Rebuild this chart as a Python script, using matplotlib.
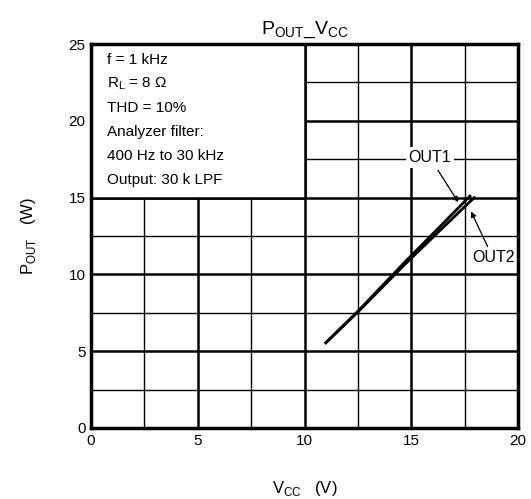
import matplotlib
matplotlib.use('Agg')
import matplotlib.pyplot as plt
from matplotlib.patches import Rectangle

plt.rcParams['font.family'] = ['Liberation Sans', 'DejaVu Sans']
plt.rcParams['mathtext.fontset'] = 'custom'
plt.rcParams['mathtext.rm'] = 'Liberation Sans'

vcc_out1 = [11.0, 12.5, 14.7, 16.3, 17.75]
pout_out1 = [5.55, 7.6, 10.8, 13.05, 15.1]
vcc_out2 = [11.0, 12.5, 14.7, 16.3, 17.95]
pout_out2 = [5.55, 7.55, 10.65, 12.8, 15.0]

notes = ['f = 1 kHz', r'R$_{\mathregular{L}}$ = 8 Ω', 'THD = 10%',
         'Analyzer filter:', '400 Hz to 30 kHz', 'Output: 30 k LPF']


def main():
    fig = plt.figure(figsize=(5.31, 4.99), dpi=100)
    ax = fig.add_axes([0.1714, 0.1423, 0.8041, 0.7695])

    ax.set_xlim(0, 20)
    ax.set_ylim(0, 25)
    ax.set_xticks([0, 5, 10, 15, 20])
    ax.set_yticks([0, 5, 10, 15, 20, 25])
    ax.set_xticks([2.5, 7.5, 12.5, 17.5], minor=True)
    ax.set_yticks([2.5, 7.5, 12.5, 17.5, 22.5], minor=True)
    ax.tick_params(which='both', length=0, labelsize=11, pad=4)
    ax.grid(which='major', color='black', lw=1.8)
    ax.grid(which='minor', color='black', lw=1.0)
    for s in ax.spines.values():
        s.set_linewidth(2.5)

    # condition box in the top-left corner
    ax.add_patch(Rectangle((0, 15), 10, 10, facecolor='white', edgecolor='black',
                           lw=1.8, zorder=2))
    for i, t in enumerate(notes):
        ax.text(0.74, 23.96 - i * 1.56, t, fontsize=11, va='center', zorder=3)

    ax.plot(vcc_out1, pout_out1, color='black', lw=2.0, zorder=4)
    ax.plot(vcc_out2, pout_out2, color='black', lw=2.0, zorder=4)

    ax.annotate('OUT1', xy=(17.2, 14.7), xytext=(15.88, 17.6), fontsize=11.5,
                ha='center', va='center', zorder=5,
                bbox=dict(facecolor='white', edgecolor='none', pad=2),
                arrowprops=dict(arrowstyle='-|>', color='black', lw=0.9,
                                shrinkA=2, shrinkB=0, mutation_scale=8))
    ax.annotate('OUT2', xy=(17.8, 14.1), xytext=(18.83, 11.07), fontsize=11.5,
                ha='center', va='center', zorder=5,
                bbox=dict(facecolor='white', edgecolor='none', pad=1),
                arrowprops=dict(arrowstyle='-|>', color='black', lw=0.9,
                                shrinkA=2, shrinkB=0, mutation_scale=8))

    ax.set_title(r'P$_{\mathregular{OUT}}$_V$_{\mathregular{CC}}$', fontsize=14, pad=7)
    ax.set_xlabel(r'V$_{\mathregular{CC}}$   (V)', fontsize=12, labelpad=23)
    ax.set_ylabel(r'P$_{\mathregular{OUT}}$   (W)', fontsize=12, labelpad=22)

    fig.savefig('out.png', dpi=100)


if __name__ == '__main__':
    main()
